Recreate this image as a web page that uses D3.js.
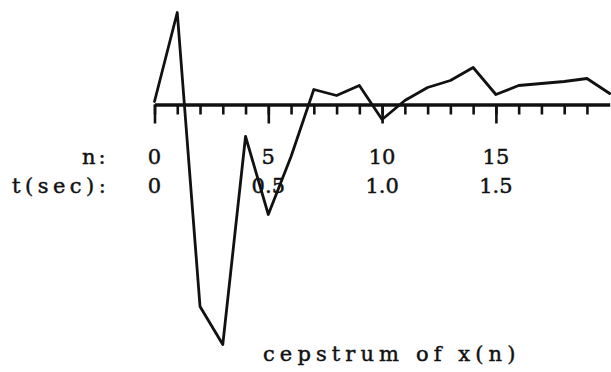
<!DOCTYPE html>
<html>
<head>
<meta charset="utf-8">
<script src="https://cdn.jsdelivr.net/npm/d3@7"></script>
<style>
  html, body { margin: 0; padding: 0; background: #fff; }
  svg { display: block; }
  text { font-family: "DejaVu Serif", "Liberation Serif", serif; fill: #111; stroke: #111; stroke-width: 0.45; }
</style>
</head>
<body>
<svg id="chart" width="611" height="372"></svg>
<script>
// Cepstrum samples c(n), n = 0..20
const samples = [0, 1, 2, 3, 4, 5, 6, 7, 8, 9, 10, 11, 12, 13, 14, 15, 16, 17, 18, 19, 20];
const cepstrum = [0.03, 0.92, -2.02, -2.40, -0.32, -1.10, -0.52, 0.15, 0.09, 0.19,
                  -0.15, 0.04, 0.17, 0.24, 0.37, 0.10, 0.19, 0.21, 0.23, 0.26, 0.11];

// Major tick positions with their sample-index and time labels
const majorTicks = [0, 5, 10, 15];
const nLabels = ["0", "5", "10", "15"];
const tLabels = ["0", "0.5", "1.0", "1.5"];
const rowNames = ["n:", "t(sec):"];
const caption = "cepstrum of x(n)";

const svg = d3.select("#chart");

const x = d3.scaleLinear().domain([0, 20]).range([154.5, 609.7]);
const y = d3.scaleLinear().domain([-2.5, 1]).range([354.5, 4.5]);

// Row captions
svg.append("text").attr("x", 82).attr("y", 164)
  .attr("font-size", 21).attr("letter-spacing", 3).text(rowNames[0]);
svg.append("text").attr("x", 12).attr("y", 193)
  .attr("font-size", 21).attr("letter-spacing", 4.5).text(rowNames[1]);

// Tick labels in both units
svg.selectAll("text.nlab").data(majorTicks).join("text")
  .attr("class", "nlab")
  .attr("x", d => x(d)).attr("y", 164)
  .attr("text-anchor", "middle").attr("font-size", 21)
  .text((d, i) => nLabels[i]);
svg.selectAll("text.tlab").data(majorTicks).join("text")
  .attr("class", "tlab")
  .attr("x", d => x(d)).attr("y", 193)
  .attr("text-anchor", "middle").attr("font-size", 21)
  .text((d, i) => tLabels[i]);

// Axis: minor ticks at every sample, longer ticks every five samples
const axisY = y(0);
const minorAxis = d3.axisBottom(x).tickValues(d3.range(0, 20)).tickSize(10).tickSizeOuter(0).tickFormat("");
const majorAxis = d3.axisBottom(x).tickValues(majorTicks).tickSize(19).tickSizeOuter(0).tickFormat("");

const gMinor = svg.append("g").attr("transform", `translate(0,${axisY})`).call(minorAxis);
const gMajor = svg.append("g").attr("transform", `translate(0,${axisY})`).call(majorAxis);
[gMinor, gMajor].forEach(g => {
  g.selectAll(".tick line").attr("stroke", "#111").attr("stroke-width", 2.6);
});
gMajor.select(".domain").remove();
gMinor.select(".domain").attr("stroke", "#111").attr("stroke-width", 3.4);

// Cepstrum curve
const line = d3.line().x((d, i) => x(samples[i])).y(d => y(d));
svg.append("path")
  .datum(cepstrum)
  .attr("d", line)
  .attr("fill", "none")
  .attr("stroke", "#111")
  .attr("stroke-width", 2.8)
  .attr("stroke-linejoin", "round")
  .attr("stroke-linecap", "round");

// Caption below the plot
svg.append("text").attr("x", 263).attr("y", 361)
  .attr("font-size", 21).attr("letter-spacing", 5.1).text(caption);
</script>
</body>
</html>
